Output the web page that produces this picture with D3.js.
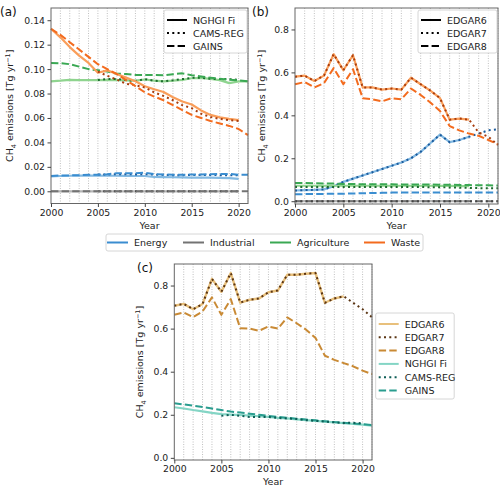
<!DOCTYPE html>
<html><head><meta charset="utf-8">
<script src="https://cdn.jsdelivr.net/npm/d3@7"></script>
<style>body{margin:0;background:#fff}svg{font-family:"DejaVu Sans",sans-serif}</style>
</head><body><svg id="chart" width="500" height="493"></svg>
<script>
const years = [2000,2001,2002,2003,2004,2005,2006,2007,2008,2009,2010,2011,2012,2013,2014,2015,2016,2017,2018,2019,2020,2021];
const N = null;
// Panel (a): NGHGI Fi / CAMS-REG / GAINS by sector
const aEnergyNGHGI = [0.0122,0.0125,0.0127,0.0128,0.0128,0.0128,0.0127,0.0127,0.0126,0.0125,0.0125,0.0117,0.0116,0.0115,0.0114,0.0112,0.0112,0.0111,0.0110,0.0108,0.0102,N];
const aEnergyCAMS = [N,N,N,N,N,0.0138,0.0138,0.0140,0.0140,0.0138,0.0140,0.0136,0.0134,0.0132,0.0132,0.0133,0.0134,0.0133,0.0132,0.0132,0.0130,N];
const aEnergyGAINS = [0.0125,0.0130,0.0130,0.0132,0.0135,0.0135,0.0140,0.0148,0.0148,0.0148,0.0152,0.0140,0.0138,0.0135,0.0135,0.0138,0.0138,0.0140,0.0142,0.0142,0.0135,0.0135];
const aIndNGHGI = [0,0,0,0,0,0,0,0,0,0,0,0,0,0,0,0,0,0,0,0,0,N];
const aIndCAMS = [N,N,N,N,N,0,0,0,0,0,0,0,0,0,0,0,0,0,0,0,0,N];
const aIndGAINS = [0,0,0,0,0,0,0,0,0,0,0,0,0,0,0,0,0,0,0,0,0,0];
const aAgriNGHGI = [0.0900,0.0905,0.0912,0.0910,0.0910,0.0910,0.0912,0.0910,0.0908,0.0905,0.0915,0.0905,0.0900,0.0905,0.0912,0.0925,0.0928,0.0920,0.0910,0.0885,0.0900,0.0900];
const aAgriCAMS = [N,N,N,N,N,0.0910,0.0920,0.0918,0.0910,0.0902,0.0918,0.0905,0.0900,0.0908,0.0918,0.0928,0.0930,0.0920,0.0918,0.0918,0.0912,N];
const aAgriGAINS = [0.1050,0.1048,0.1040,0.1020,0.1000,0.0990,0.0980,0.0962,0.0960,0.0952,0.0952,0.0952,0.0950,0.0958,0.0965,0.0950,0.0940,0.0930,0.0920,0.0912,0.0908,0.0900];
const aWasteNGHGI = [0.1330,0.1260,0.1180,0.1110,0.1050,0.0970,0.0990,0.0960,0.0930,0.0900,0.0860,0.0835,0.0812,0.0770,0.0735,0.0710,0.0662,0.0625,0.0605,0.0592,0.0582,N];
const aWasteCAMS = [N,N,N,N,N,0.0980,0.0945,0.0915,0.0880,0.0868,0.0850,0.0810,0.0780,0.0745,0.0705,0.0680,0.0635,0.0608,0.0592,0.0582,0.0575,N];
const aWasteGAINS = [0.1330,0.1280,0.1220,0.1160,0.1100,0.1040,0.1000,0.0960,0.0910,0.0860,0.0810,0.0775,0.0745,0.0705,0.0665,0.0625,0.0600,0.0575,0.0555,0.0535,0.0510,0.0460];
// Panel (b): EDGAR6 / EDGAR7 / EDGAR8 by sector
const bEnergyE6 = [0.050,0.052,0.053,0.055,0.070,0.090,0.105,0.120,0.135,0.150,0.165,0.180,0.200,0.230,0.270,0.310,0.275,0.285,0.300,N,N,N];
const bEnergyE7 = [0.050,0.052,0.053,0.055,0.070,0.090,0.105,0.120,0.135,0.150,0.165,0.180,0.200,0.230,0.270,0.310,0.275,0.285,0.300,0.315,0.330,0.335];
const bEnergyE8 = [0.033,0.033,0.034,0.034,0.035,0.035,0.036,0.037,0.038,0.039,0.040,0.040,0.040,0.040,0.040,0.040,0.040,0.040,0.040,0.040,0.040,0.040];
const bIndE6 = [0,0,0,0,0,0,0,0,0,0,0,0,0,0,0,0,0,0,0,N,N,N];
const bIndE7 = [0,0,0,0,0,0,0,0,0,0,0,0,0,0,0,0,0,0,0,0,0,0];
const bIndE8 = [0,0,0,0,0,0,0,0,0,0,0,0,0,0,0,0,0,0,0,0,0,0];
const bAgriE6 = [0.072,0.072,0.072,0.072,0.072,0.072,0.072,0.072,0.072,0.072,0.072,0.072,0.072,0.072,0.072,0.071,0.071,0.070,0.070,N,N,N];
const bAgriE7 = [0.066,0.066,0.066,0.066,0.066,0.066,0.066,0.066,0.066,0.066,0.066,0.066,0.066,0.066,0.065,0.065,0.064,0.063,0.062,0.061,0.060,0.060];
const bAgriE8 = [0.085,0.085,0.084,0.083,0.082,0.080,0.080,0.079,0.079,0.079,0.079,0.078,0.078,0.078,0.078,0.077,0.077,0.076,0.075,0.074,0.074,0.073];
const bWasteE6 = [0.580,0.585,0.560,0.585,0.685,0.610,0.680,0.530,0.530,0.520,0.525,0.520,0.575,0.545,0.515,0.480,0.380,0.385,0.380,N,N,N];
const bWasteE7 = [0.580,0.585,0.560,0.585,0.685,0.610,0.680,0.530,0.530,0.520,0.525,0.520,0.575,0.545,0.515,0.480,0.380,0.385,0.380,0.320,0.300,0.262];
const bWasteE8 = [0.545,0.555,0.530,0.550,0.620,0.545,0.615,0.480,0.475,0.465,0.480,0.475,0.525,0.495,0.460,0.420,0.350,0.330,0.315,0.305,0.285,0.265];
// Panel (c): totals
const cE6 = [0.706,0.715,0.690,0.714,0.831,0.771,0.858,0.721,0.734,0.740,0.769,0.777,0.850,0.850,0.855,0.858,0.720,0.740,0.750,N,N,N];
const cE7 = [0.706,0.715,0.690,0.714,0.831,0.771,0.858,0.721,0.734,0.740,0.769,0.777,0.850,0.850,0.855,0.858,0.720,0.740,0.750,0.720,0.690,0.653];
const cE8 = [0.664,0.675,0.653,0.680,0.745,0.664,0.737,0.602,0.600,0.590,0.610,0.600,0.652,0.625,0.595,0.557,0.474,0.455,0.440,0.425,0.405,0.389];
const cNGHGI = [0.235,0.229,0.222,0.216,0.209,0.203,0.201,0.199,0.196,0.193,0.190,0.186,0.183,0.179,0.175,0.172,0.168,0.165,0.161,0.158,0.154,0.150];
const cCAMS = [N,N,N,N,N,0.195,0.200,0.195,0.190,0.190,0.190,0.185,0.183,0.180,0.175,0.172,0.168,0.165,0.162,0.163,0.160,N];
const cGAINS = [0.254,0.248,0.242,0.236,0.229,0.222,0.215,0.210,0.205,0.200,0.195,0.190,0.186,0.182,0.178,0.174,0.170,0.166,0.163,0.160,0.156,0.152];

const sectors = ["Energy","Industrial","Agriculture","Waste"];
const aLegendLabels = ["NGHGI Fi","CAMS-REG","GAINS"];
const bLegendLabels = ["EDGAR6","EDGAR7","EDGAR8"];
const cLegendLabels = ["EDGAR6","EDGAR7","EDGAR8","NGHGI Fi","CAMS-REG","GAINS"];
const aTicks = [0,0.02,0.04,0.06,0.08,0.10,0.12,0.14];
const bTicks = [0,0.2,0.4,0.6,0.8];
const xTicks = [2000,2005,2010,2015,2020];

// styling
const pal = {
  Energy:{light:"#82b9e2",mid:"#3a8dd0",dark:"#1a5a9c"},
  Industrial:{light:"#b5b5b5",mid:"#737373",dark:"#444444"},
  Agriculture:{light:"#8fd48f",mid:"#3aa853",dark:"#1b6a2d"},
  Waste:{light:"#fa9e5a",mid:"#f36b1e",dark:"#a83c0c"}
};
const DOT = "2,3.3", DASH = "7.4,3.2";
const svg = d3.select("#chart");

function yLabel(g, x, y) {
  const t = g.append("text").attr("transform",`translate(${x},${y}) rotate(-90)`)
    .attr("text-anchor","middle").attr("font-size",9.5).attr("fill","#222");
  t.append("tspan").text("CH");
  t.append("tspan").attr("font-size",6.5).attr("dy",2.5).text("4");
  t.append("tspan").attr("dy",-2.5).text(" emissions [Tg yr");
  t.append("tspan").attr("font-size",6.5).attr("dy",-3.5).text("−1");
  t.append("tspan").attr("dy",3.5).text("]");
}

function panel(cfg) {
  const g = svg.append("g");
  const x = d3.scaleLinear().domain([2000,2021]).range([cfg.x0,cfg.x1]);
  const y = d3.scaleLinear().domain(cfg.yDom).range([cfg.yb,cfg.yt]);
  // grid
  g.selectAll(".gr").data(years.slice(1)).enter().append("line")
    .attr("x1",d=>x(d)).attr("x2",d=>x(d)).attr("y1",cfg.yt).attr("y2",cfg.yb)
    .attr("stroke","#b0b0b0").attr("stroke-width",0.8).attr("stroke-dasharray","1,1.5");
  // lines
  const line = d3.line().defined(d=>d[1]!=null).x(d=>x(d[0])).y(d=>y(d[1]));
  cfg.series.forEach(s=>{
    g.append("path").datum(years.map((yr,i)=>[yr,s.v[i]]))
      .attr("d",line).attr("fill","none").attr("stroke",s.c)
      .attr("stroke-width",s.w||2).attr("stroke-dasharray",s.d||null)
      .attr("stroke-linejoin","round");
  });
  // frame
  g.append("rect").attr("x",cfg.x0).attr("y",cfg.yt).attr("width",cfg.x1-cfg.x0).attr("height",cfg.yb-cfg.yt)
    .attr("fill","none").attr("stroke","#666").attr("stroke-width",1);
  // axes
  const xa = g.append("g").attr("transform",`translate(0,${cfg.yb})`)
    .call(d3.axisBottom(x).tickValues(xTicks).tickFormat(d3.format("d")).tickSize(3.5).tickPadding(2));
  const ya = g.append("g").attr("transform",`translate(${cfg.x0},0)`)
    .call(d3.axisLeft(y).tickValues(cfg.yTicks).tickFormat(d3.format(cfg.fmt)).tickSize(3.5).tickPadding(2.5));
  [xa,ya].forEach(a=>{
    a.select(".domain").remove();
    a.selectAll("line").attr("stroke","#444");
    a.selectAll("text").attr("font-size",9.3).attr("fill","#222").attr("font-family","DejaVu Sans");
  });
  g.append("text").attr("x",(cfg.x0+cfg.x1)/2).attr("y",cfg.yb+25).attr("text-anchor","middle")
    .attr("font-size",9.5).attr("fill","#222").text("Year");
  yLabel(g, cfg.ylx, (cfg.yt+cfg.yb)/2);
  g.append("text").attr("x",cfg.tx).attr("y",cfg.ty).attr("font-size",12).attr("fill","#111").text(cfg.title);
  return {x,y,g};
}

function legend(x0,y0,w,h,items,dy,firstY) {
  const g = svg.append("g");
  g.append("rect").attr("x",x0).attr("y",y0).attr("width",w).attr("height",h).attr("rx",2)
    .attr("fill","#fff").attr("fill-opacity",0.85).attr("stroke","#ccc").attr("stroke-width",0.8);
  items.forEach((it,i)=>{
    const yy = firstY + i*dy;
    g.append("line").attr("x1",x0+3).attr("x2",x0+23).attr("y1",yy).attr("y2",yy)
      .attr("stroke",it.c).attr("stroke-width",2).attr("stroke-dasharray",it.d||null);
    g.append("text").attr("x",x0+29).attr("y",yy+3.5).attr("font-size",9.5).attr("fill","#222").text(it.l);
  });
}

function sectorSeries(data) {
  const out = [];
  sectors.forEach(s=>{
    const [v1,v2,v3] = data[s];
    out.push({v:v1,c:pal[s].light,w:2.2});
    out.push({v:v2,c:pal[s].dark,d:DOT,w:2});
    out.push({v:v3,c:pal[s].mid,d:DASH,w:2});
  });
  return out;
}
function sectorSeriesB(data) {
  const out = [];
  sectors.forEach(s=>{
    const [v1,v2,v3] = data[s];
    out.push({v:v1,c:pal[s].light,w:2.2});
    out.push({v:v3,c:pal[s].mid,d:DASH,w:2});
    out.push({v:v2,c:pal[s].dark,d:DOT,w:2});
  });
  return out;
}

panel({x0:51,x1:248,yt:8,yb:203.5,yDom:[-0.01,0.15],yTicks:aTicks,fmt:".2f",ylx:13,tx:0,ty:16,title:"(a)",
  series:sectorSeries({Energy:[aEnergyNGHGI,aEnergyCAMS,aEnergyGAINS],Industrial:[aIndNGHGI,aIndCAMS,aIndGAINS],
    Agriculture:[aAgriNGHGI,aAgriCAMS,aAgriGAINS],Waste:[aWasteNGHGI,aWasteCAMS,aWasteGAINS]})});
panel({x0:295,x1:498,yt:8,yb:204,yDom:[-0.013,0.9],yTicks:bTicks,fmt:".1f",ylx:265,tx:252,ty:16,title:"(b)",
  series:sectorSeriesB({Energy:[bEnergyE6,bEnergyE7,bEnergyE8],Industrial:[bIndE6,bIndE7,bIndE8],
    Agriculture:[bAgriE6,bAgriE7,bAgriE8],Waste:[bWasteE6,bWasteE7,bWasteE8]})});
panel({x0:174.3,x1:372,yt:264,yb:460,yDom:[-0.01,0.9],yTicks:bTicks,fmt:".1f",ylx:143,tx:137,ty:272,title:"(c)",
  series:[
    {v:cE6,c:"#e8c07c",w:2.4},{v:cE8,c:"#c98a35",d:DASH,w:2},{v:cE7,c:"#5a3412",d:DOT,w:2},
    {v:cNGHGI,c:"#84d5c5",w:2.2},{v:cGAINS,c:"#2a9d8f",d:DASH,w:2},{v:cCAMS,c:"#0d5c55",d:DOT,w:2}
  ]});

legend(164,10,83,43,[{l:aLegendLabels[0],c:"#000"},{l:aLegendLabels[1],c:"#000",d:DOT},{l:aLegendLabels[2],c:"#000",d:DASH}],13,20);
legend(418,10,79,43,[{l:bLegendLabels[0],c:"#000"},{l:bLegendLabels[1],c:"#000",d:DOT},{l:bLegendLabels[2],c:"#000",d:DASH}],13,20);
legend(375.7,313,78.5,86,[
  {l:cLegendLabels[0],c:"#e8c07c"},{l:cLegendLabels[1],c:"#5a3412",d:DOT},{l:cLegendLabels[2],c:"#c98a35",d:DASH},
  {l:cLegendLabels[3],c:"#84d5c5"},{l:cLegendLabels[4],c:"#0d5c55",d:DOT},{l:cLegendLabels[5],c:"#2a9d8f",d:DASH}],13.3,324);

// sector legend
(function(){
  const g = svg.append("g");
  g.append("rect").attr("x",106).attr("y",234).attr("width",317).attr("height",17).attr("rx",2)
    .attr("fill","#fff").attr("stroke","#ccc").attr("stroke-width",0.8);
  const xs = [107,183,270,364];
  sectors.forEach((s,i)=>{
    g.append("line").attr("x1",xs[i]).attr("x2",xs[i]+21).attr("y1",242.5).attr("y2",242.5)
      .attr("stroke",pal[s].mid).attr("stroke-width",2);
    g.append("text").attr("x",xs[i]+27).attr("y",246).attr("font-size",9.5).attr("fill","#222").text(s);
  });
})();
</script></body></html>
